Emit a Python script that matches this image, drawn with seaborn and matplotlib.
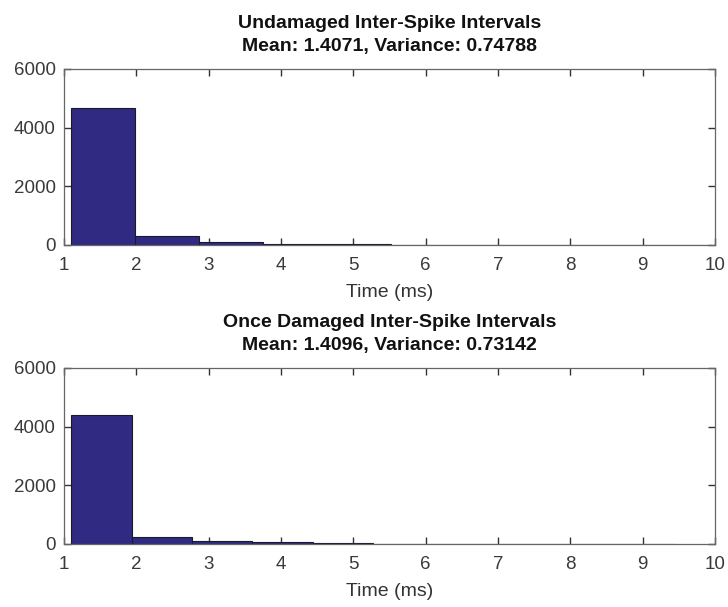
import numpy as np
import pandas as pd
import matplotlib
matplotlib.use("Agg")
import matplotlib.pyplot as plt
import seaborn as sns

# Data
titles = ["Undamaged Inter-Spike Intervals\nMean: 1.4071, Variance: 0.74788",
          "Once Damaged Inter-Spike Intervals\nMean: 1.4096, Variance: 0.73142"]
undamaged_counts = [4680, 290, 110, 50, 20, 10, 5, 3, 2, 1]
damaged_counts = [4400, 225, 110, 60, 25, 12, 6, 3, 2, 1]
undamaged_range = (1.1, 9.95)
damaged_range = (1.1, 9.45)
x_ticks = [1, 2, 3, 4, 5, 6, 7, 8, 9, 10]
y_ticks = [0, 2000, 4000, 6000]
x_label = "Time (ms)"

sns.set_style("white")
plt.rcParams["font.family"] = ["Liberation Sans", "DejaVu Sans"]

fig = plt.figure(figsize=(7.28, 6.07), dpi=100)
positions = [[0.088, 0.5964, 0.894, 0.29], [0.088, 0.1038, 0.894, 0.29]]
bar_color = "#302A82"
tick_color = "#3a3a3a"

for pos, counts, rng, title in zip(positions,
                                    [undamaged_counts, damaged_counts],
                                    [undamaged_range, damaged_range],
                                    titles):
    ax = fig.add_axes(pos)
    df = pd.DataFrame({"t": np.linspace(rng[0], rng[1], 2 * len(counts) + 1)[1::2],
                       "n": counts})
    sns.histplot(data=df, x="t", weights="n", bins=len(counts), binrange=rng,
                 ax=ax, color=bar_color, alpha=1.0, edgecolor="#1a1a2e",
                 linewidth=0.8)
    ax.set_xlim(1, 10)
    ax.set_ylim(0, 6000)
    ax.set_xticks(x_ticks)
    ax.set_yticks(y_ticks)
    ax.set_xlabel(x_label, fontsize=14, color="#333333", labelpad=7)
    ax.set_ylabel("")
    ax.set_title(title, fontsize=14, fontweight="bold", color="#111111", pad=13,
                 linespacing=1.45)
    ax.tick_params(direction="in", bottom=True, left=True, top=True, right=True,
                   length=5, width=1.0, labelsize=13.5, colors="#333333",
                   labelcolor=tick_color)
    ax.tick_params(axis="x", pad=9)
    ax.tick_params(axis="y", pad=6)
    for s in ax.spines.values():
        s.set_visible(True)
        s.set_color("#666666")
        s.set_linewidth(0.9)

fig.savefig("out.png", dpi=100)
